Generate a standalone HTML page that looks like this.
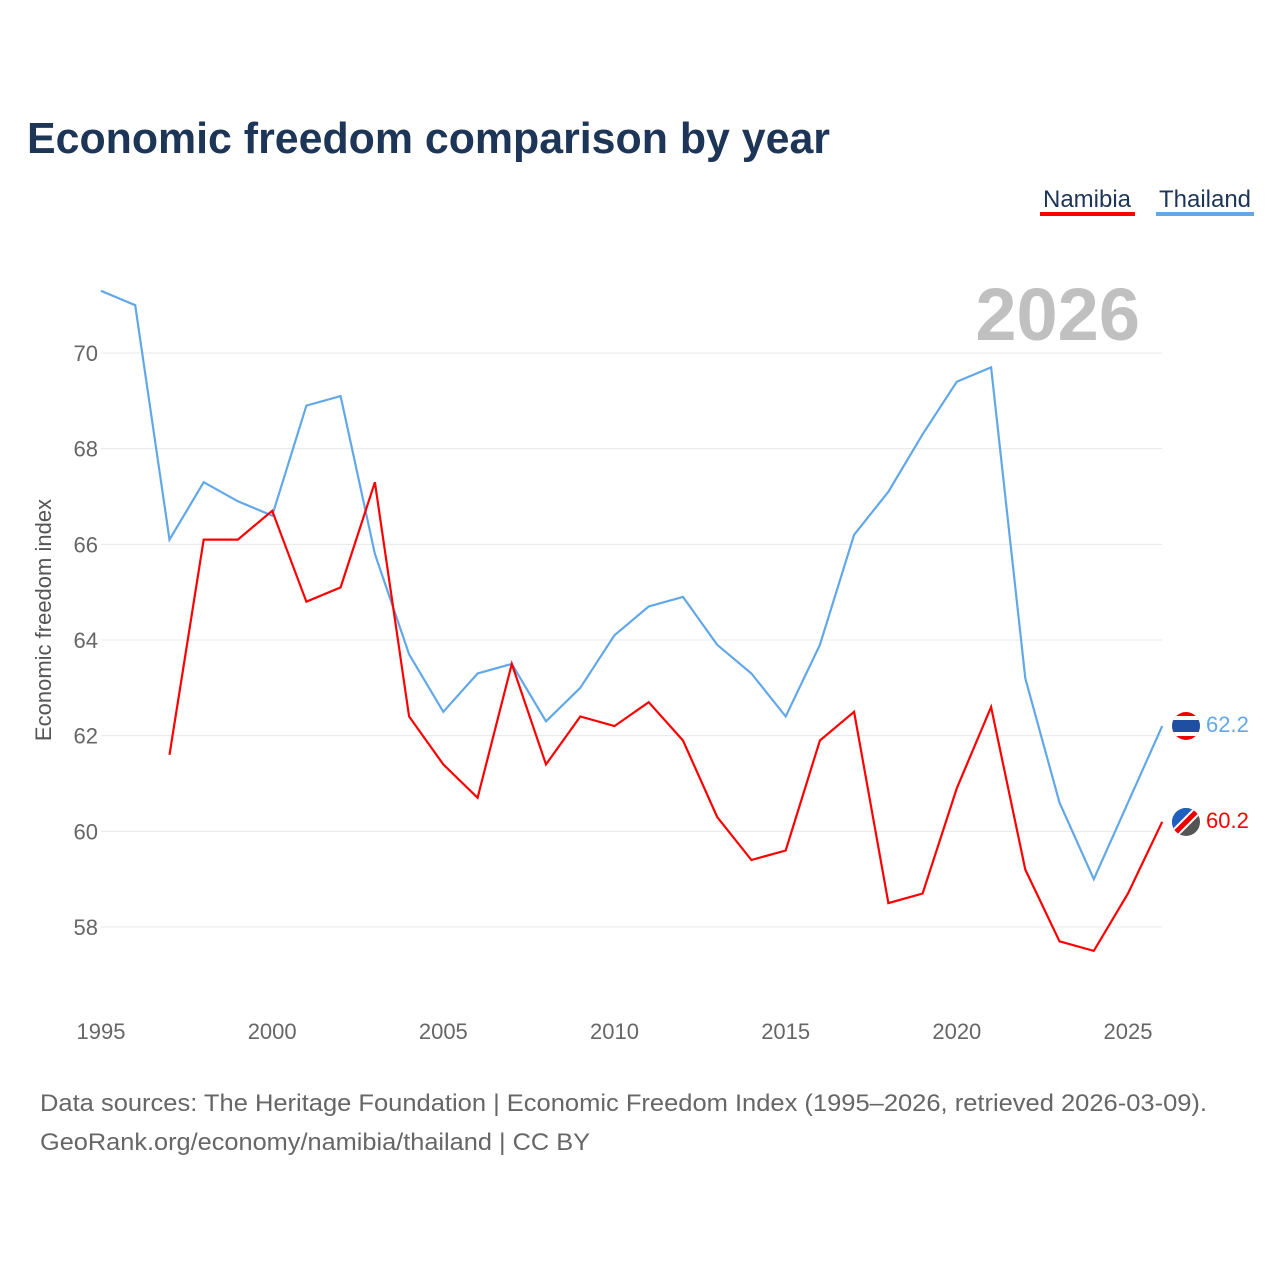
<!DOCTYPE html>
<html><head><meta charset="utf-8"><style>
body{margin:0;background:#fff;font-family:"Liberation Sans",sans-serif}
svg text{font-family:"Liberation Sans",sans-serif}
</style></head><body>
<svg id="chart" width="1280" height="1280" viewBox="0 0 1280 1280">
<defs>
<clipPath id="c1"><circle cx="1186" cy="726" r="14"/></clipPath>
<clipPath id="c2"><circle cx="1186" cy="822" r="14"/></clipPath>
</defs>
<text x="27" y="153" font-size="44" font-weight="bold" fill="#1d3557" textLength="803" lengthAdjust="spacingAndGlyphs">Economic freedom comparison by year</text>
<g>
<text x="1087" y="207" font-size="24" fill="#1d3557" text-anchor="middle">Namibia</text>
<rect x="1040" y="212" width="95" height="4" fill="#ff0000"/>
<text x="1205" y="207" font-size="24" fill="#1d3557" text-anchor="middle">Thailand</text>
<rect x="1156" y="212" width="98" height="4" fill="#62a8e8"/>
</g>
<text x="1140" y="340" font-size="74" font-weight="bold" fill="#c0c0c0" text-anchor="end">2026</text>
<text transform="translate(51,620) rotate(-90)" font-size="22" fill="#555" text-anchor="middle">Economic freedom index</text>
<g id="grid"></g><g id="xt"></g><g id="yt"></g><g id="lines"></g>
<g>
<g clip-path="url(#c1)">
<rect x="1170" y="710" width="32" height="32" fill="#e00"/>
<rect x="1170" y="716" width="32" height="20" fill="#fff"/>
<rect x="1170" y="720" width="32" height="12" fill="#1e4fa0"/>
</g>
<text x="1206" y="732" font-size="22" fill="#62a8e8">62.2</text>
<g clip-path="url(#c2)">
<rect x="1170" y="806" width="32" height="32" fill="#555"/>
<path d="M1170 806 L1202 806 L1170 838 Z" fill="#1e5fbf"/>
<line x1="1168" y1="840" x2="1204" y2="804" stroke="#fff" stroke-width="9"/>
<line x1="1168" y1="840" x2="1204" y2="804" stroke="#e00" stroke-width="5"/>
</g>
<text x="1206" y="828" font-size="22" fill="#ff0000">60.2</text>
</g>
<text x="40" y="1111" font-size="24" fill="#666" textLength="1167" lengthAdjust="spacingAndGlyphs">Data sources: The Heritage Foundation | Economic Freedom Index (1995–2026, retrieved 2026-03-09).</text>
<text x="40" y="1150" font-size="24" fill="#666" textLength="550" lengthAdjust="spacingAndGlyphs">GeoRank.org/economy/namibia/thailand | CC BY</text>
</svg>
<script>
const years=[1995,1996,1997,1998,1999,2000,2001,2002,2003,2004,2005,2006,2007,2008,2009,2010,2011,2012,2013,2014,2015,2016,2017,2018,2019,2020,2021,2022,2023,2024,2025,2026];
const thailand=[71.3,71.0,66.1,67.3,66.9,66.6,68.9,69.1,65.8,63.7,62.5,63.3,63.5,62.3,63.0,64.1,64.7,64.9,63.9,63.3,62.4,63.9,66.2,67.1,68.3,69.4,69.7,63.2,60.6,59.0,60.6,62.2];
const namibia=[null,null,61.6,66.1,66.1,66.7,64.8,65.1,67.3,62.4,61.4,60.7,63.5,61.4,62.4,62.2,62.7,61.9,60.3,59.4,59.6,61.9,62.5,58.5,58.7,60.9,62.6,59.2,57.7,57.5,58.7,60.2];
const yTicks=[58,60,62,64,66,68,70];
const xTicks=[1995,2000,2005,2010,2015,2020,2025];
const NS="http://www.w3.org/2000/svg";
const x=v=>101+(v-1995)*(1128-101)/30;
const y=v=>353+(70-v)*(927-353)/12;
function mk(t,a,p){const e=document.createElementNS(NS,t);for(const k in a)e.setAttribute(k,a[k]);p.appendChild(e);return e;}
const grid=document.getElementById('grid'),yt=document.getElementById('yt'),xt=document.getElementById('xt'),lines=document.getElementById('lines');
yTicks.forEach(v=>{
 const l=mk('line',{x1:101,x2:1162,y1:y(v),y2:y(v),stroke:'#e8e8e8','stroke-width':1},grid);
 
 
 const t=mk('text',{x:98,y:y(v)+8,'font-size':22,fill:'#666','text-anchor':'end'},yt);t.textContent=v;
 
 
});
xTicks.forEach(v=>{
 const t=mk('text',{x:x(v),y:1039,'font-size':22,fill:'#666','text-anchor':'middle'},xt);t.textContent=v;
 
 
});
function path(vals){let d='';vals.forEach((v,i)=>{if(v==null)return;d+=(d?'L':'M')+x(years[i]).toFixed(1)+' '+y(v).toFixed(1);});return d;}
const pt=mk('path',{d:path(thailand),fill:'none',stroke:'#62a8e8','stroke-width':2.2},lines);


const pn=mk('path',{d:path(namibia),fill:'none',stroke:'#ff0000','stroke-width':2.2},lines);


</script>
</body></html>
